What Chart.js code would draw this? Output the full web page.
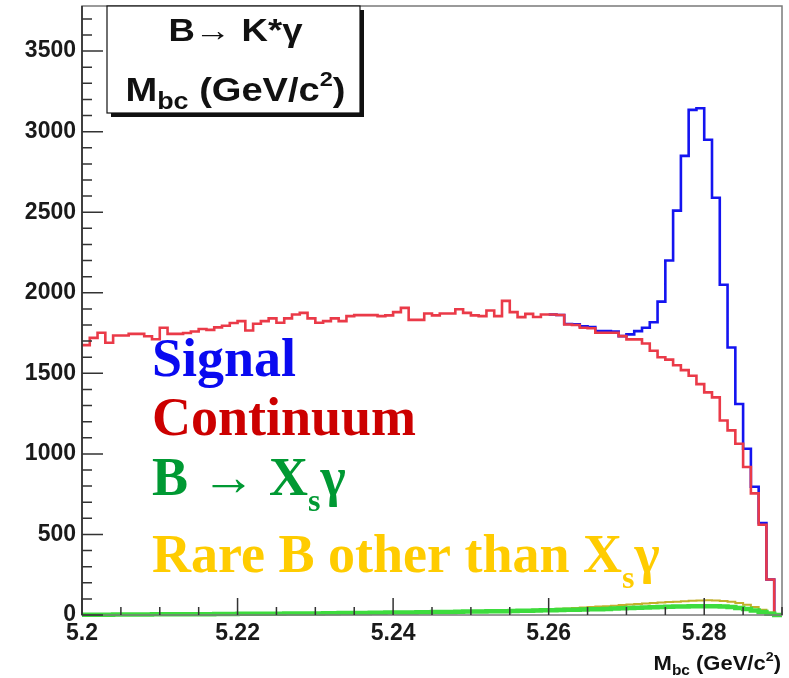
<!DOCTYPE html>
<html><head><meta charset="utf-8">
<script src="https://cdn.jsdelivr.net/npm/chart.js@4/dist/chart.umd.min.js"></script>
<style>html,body{margin:0;padding:0;background:#fff;} canvas{display:block;}</style>
</head><body>
<canvas id="c" width="789" height="678"></canvas>
<script>
// ---- data (histogram bins of 1 MeV from 5.200 to 5.290 GeV/c^2) ----
const binStart = 5.200;
const binWidth = 0.001;
const xMin = 5.20, xMax = 5.29;
const yMin = 0, yMax = 3780;
const xTickValues = [5.20, 5.22, 5.24, 5.26, 5.28];
const yTickValues = [0, 500, 1000, 1500, 2000, 2500, 3000, 3500];

const continuum = [
  1675, 1720, 1752, 1690, 1735, 1735, 1745, 1745, 1730, 1712,
  1783, 1745, 1745, 1750, 1760, 1775, 1770, 1785, 1795, 1812,
  1824, 1766, 1808, 1824, 1841, 1814, 1841, 1865, 1875, 1841,
  1814, 1824, 1841, 1824, 1855, 1861, 1861, 1861, 1855, 1860,
  1880, 1906, 1832, 1832, 1871, 1860, 1871, 1871, 1898, 1875,
  1860, 1855, 1890, 1855, 1950, 1880, 1849, 1869, 1850, 1865,
  1865, 1862, 1803, 1800, 1783, 1780, 1752, 1752, 1752, 1731,
  1711, 1711, 1685, 1640, 1600, 1585, 1550, 1520, 1485, 1433,
  1382, 1351, 1207, 1146, 1063, 919, 755, 560, 220, 0
];
const signalTotal = [
  null, null, null, null, null, null, null, null, null, null,
  null, null, null, null, null, null, null, null, null, null,
  null, null, null, null, null, null, null, null, null, null,
  null, null, null, null, null, null, null, null, null, null,
  null, null, null, null, null, null, null, null, null, null,
  null, null, null, null, null, null, null, null, null, null,
  1865, 1862, 1806, 1804, 1792, 1787, 1762, 1762, 1760, 1731,
  1742, 1762, 1783, 1817, 1945, 2200, 2510, 2850, 3135, 3145,
  2950, 2590, 2050, 1660, 1310, 1032, 796, 570, 220, 0
];
const xsGamma = [
  2, 2, 2, 2, 3, 3, 3, 3, 3, 4,
  4, 4, 4, 5, 5, 5, 5, 6, 6, 6,
  7, 7, 7, 8, 8, 8, 9, 9, 10, 10,
  10, 11, 11, 12, 12, 13, 13, 14, 14, 15,
  15, 16, 16, 17, 17, 18, 19, 19, 20, 21,
  21, 22, 23, 23, 24, 25, 26, 27, 28, 29,
  30, 31, 32, 33, 34, 35, 36, 38, 40, 42,
  44, 45, 47, 48, 50, 51, 52, 53, 54, 55,
  55, 54, 52, 49, 44, 37, 28, 18, 7, 0
];
const rareB = [
  2, 2, 3, 3, 3, 3, 3, 4, 4, 4,
  4, 4, 5, 5, 5, 6, 6, 6, 6, 7,
  7, 7, 8, 8, 8, 9, 9, 10, 10, 10,
  11, 11, 12, 12, 13, 13, 14, 14, 15, 15,
  16, 16, 17, 18, 18, 19, 20, 20, 21, 22,
  23, 24, 25, 26, 27, 28, 29, 31, 33, 35,
  37, 39, 41, 43, 46, 49, 52, 55, 58, 62,
  65, 68, 71, 74, 77, 80, 83, 86, 88, 90,
  91, 90, 87, 82, 74, 63, 49, 33, 15, 0
];

function toSteps(values) {
  const pts = [];
  values.forEach((v, i) => { if (v !== null) pts.push({ x: binStart + i * binWidth, y: v }); });
  pts.push({ x: binStart + values.length * binWidth, y: values[values.length - 1] });
  return pts;
}

function drawRich(ctx, segs, x, y, align, sx) {
  let w = 0;
  segs.forEach(s => { ctx.font = s.font; s.w = ctx.measureText(s.t).width; w += s.w; });
  let start = x;
  if (align === 'center') start = x - w * sx / 2;
  else if (align === 'right') start = x - w * sx;
  ctx.save();
  ctx.translate(start, y);
  ctx.scale(sx, 1);
  ctx.textBaseline = 'alphabetic';
  ctx.textAlign = 'left';
  let cx = 0;
  segs.forEach(s => {
    ctx.font = s.font;
    ctx.fillStyle = s.color;
    ctx.fillText(s.t, cx, s.dy || 0);
    cx += s.w;
  });
  ctx.restore();
}

const xMinorStep = 0.005, xMajorEvery = 4;
const yMinorStep = 100, yMajorEvery = 5;

const decor = {
  id: 'decor',
  afterDraw(chart) {
    const ctx = chart.ctx;
    const a = chart.chartArea;
    const xs = chart.scales.x, ys = chart.scales.y;
    ctx.save();
    // frame
    ctx.strokeStyle = '#7a7a7a';
    ctx.lineWidth = 1.5;
    ctx.strokeRect(a.left, a.top, a.right - a.left, a.bottom - a.top);
    ctx.strokeStyle = '#222';
    ctx.beginPath();
    ctx.moveTo(a.left, a.top); ctx.lineTo(a.left, a.bottom);
    ctx.stroke();
    // ticks
    ctx.strokeStyle = '#333';
    ctx.lineWidth = 1.5;
    ctx.beginPath();
    for (let k = 0; ; k++) {
      const v = xMin + k * xMinorStep;
      if (v > xMax + 1e-9) break;
      const px = xs.getPixelForValue(v);
      const len = (k % xMajorEvery === 0) ? 17 : 8;
      ctx.moveTo(px, a.bottom); ctx.lineTo(px, a.bottom - len);
    }
    for (let k = 0; ; k++) {
      const v = yMin + k * yMinorStep;
      if (v > yMax) break;
      const py = ys.getPixelForValue(v);
      const len = (k % yMajorEvery === 0) ? 21 : 10;
      ctx.moveTo(a.left, py); ctx.lineTo(a.left + len, py);
    }
    ctx.stroke();

    // title box with shadow
    const bx = 107, by = a.top, bw = 253, bh = 107;
    ctx.fillStyle = '#111';
    ctx.fillRect(bx + 4, by + bh, bw, 4);
    ctx.fillRect(bx + bw, by + 4, 4, bh);
    ctx.fillStyle = '#fff';
    ctx.fillRect(bx, by, bw, bh);
    ctx.strokeStyle = '#111';
    ctx.lineWidth = 1.2;
    ctx.strokeRect(bx, by, bw, bh);
    const hf = '"Liberation Sans", Arial, sans-serif';
    drawRich(ctx, [{ t: 'B\u2192 K*\u03b3', font: 'bold 31px ' + hf, color: '#111' }], bx + bw / 2 + 2, by + 35, 'center', 1.18);
    drawRich(ctx, [
      { t: 'M', font: 'bold 34px ' + hf, color: '#111' },
      { t: 'bc', font: 'bold 24px ' + hf, color: '#111', dy: 8 },
      { t: ' (GeV/c', font: 'bold 34px ' + hf, color: '#111' },
      { t: '2', font: 'bold 21px ' + hf, color: '#111', dy: -15 },
      { t: ')', font: 'bold 34px ' + hf, color: '#111' }
    ], bx + bw / 2 + 2, by + 95, 'center', 1.12);

    // legend text
    const tf = '"Liberation Serif", "Times New Roman", serif';
    const big = 'bold 54px ' + tf, sub = 'bold 32px ' + tf;
    drawRich(ctx, [{ t: 'Signal', font: big, color: '#0a0af0' }], 152, 376, 'left', 1.0);
    drawRich(ctx, [{ t: 'Continuum', font: big, color: '#cc0000' }], 152, 435, 'left', 1.0);
    drawRich(ctx, [
      { t: 'B \u2192 X', font: big, color: '#009933' },
      { t: 's', font: sub, color: '#009933', dy: 16 },
      { t: '\u03b3', font: big, color: '#009933' }
    ], 152, 495, 'left', 1.0);
    drawRich(ctx, [
      { t: 'Rare B other than X', font: big, color: '#ffcc00' },
      { t: 's', font: sub, color: '#ffcc00', dy: 16 },
      { t: '\u03b3', font: big, color: '#ffcc00' }
    ], 152, 572, 'left', 1.0);

    // x-axis title
    drawRich(ctx, [
      { t: 'M', font: 'bold 20px ' + hf, color: '#111' },
      { t: 'bc', font: 'bold 14px ' + hf, color: '#111', dy: 5 },
      { t: ' (GeV/c', font: 'bold 20px ' + hf, color: '#111' },
      { t: '2', font: 'bold 13px ' + hf, color: '#111', dy: -9 },
      { t: ')', font: 'bold 20px ' + hf, color: '#111' }
    ], 781, 670, 'right', 1.1);
    ctx.restore();
  }
};

const tickFont = { family: '"Liberation Sans", Arial, sans-serif', size: 23, weight: 'bold' };
const noPad = s => { s.paddingTop = 0; s.paddingBottom = 0; s.paddingLeft = 0; s.paddingRight = 0; };

new Chart(document.getElementById('c').getContext('2d'), {
  type: 'line',
  data: {
    datasets: [
      { label: 'B -> Xs gamma', data: toSteps(xsGamma), borderColor: '#3ddc3d', borderWidth: 4.5, stepped: true, order: 0, clip: 4 },
      { label: 'Rare B', data: toSteps(rareB), borderColor: '#c2b02a', borderWidth: 2, stepped: true, order: 1, clip: 4 },
      { label: 'Continuum', data: toSteps(continuum), borderColor: '#ea3a48', borderWidth: 2.6, stepped: true, order: 2 },
      { label: 'Signal', data: toSteps(signalTotal), borderColor: '#1414f0', borderWidth: 2.6, stepped: true, order: 3 }
    ]
  },
  options: {
    responsive: false,
    animation: false,
    devicePixelRatio: 1,
    layout: { padding: { top: 6, right: 7, left: 0, bottom: 0 } },
    plugins: { legend: { display: false }, tooltip: { enabled: false } },
    elements: { point: { radius: 0 }, line: { fill: false, tension: 0 } },
    scales: {
      x: {
        type: 'linear', min: xMin, max: xMax,
        grid: { display: false, drawTicks: false },
        border: { display: false },
        afterBuildTicks: s => { s.ticks = xTickValues.map(v => ({ value: v })); },
        afterFit: s => { s.height = 63; noPad(s); },
        ticks: { padding: 5, maxRotation: 0, autoSkip: false, font: tickFont, color: '#1a1a1a',
                 callback: v => String(Number(Number(v).toFixed(2))) }
      },
      y: {
        type: 'linear', min: yMin, max: yMax,
        grid: { display: false, drawTicks: false },
        border: { display: false },
        afterBuildTicks: s => { s.ticks = yTickValues.map(v => ({ value: v })); },
        afterFit: s => { s.width = 82; noPad(s); },
        ticks: { padding: 6, autoSkip: false, font: tickFont, color: '#1a1a1a',
                 callback: v => String(v) }
      }
    }
  },
  plugins: [decor]
});
</script>
</body></html>
